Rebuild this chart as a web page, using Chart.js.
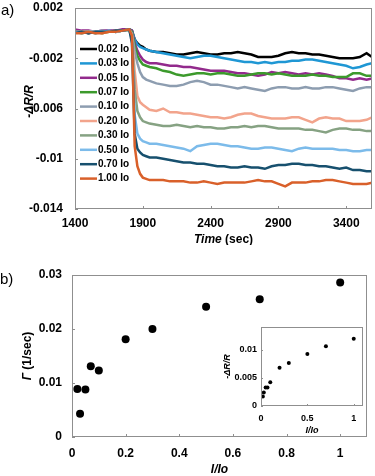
<!DOCTYPE html>
<html>
<head>
<meta charset="utf-8">
<script src="https://cdn.jsdelivr.net/npm/chart.js@4.4.0/dist/chart.umd.min.js"></script>
<style>
  html, body { margin: 0; padding: 0; background: #fff; }
  body { width: 375px; height: 476px; position: relative; overflow: hidden; }
  canvas { position: absolute; }
  #chartA { left: 0; top: 0; }
  #chartB { left: 0; top: 245px; }
  #inset { left: 205px; top: 322px; }
</style>
</head>
<body>
<canvas id="chartA" width="375" height="245"></canvas>
<canvas id="chartB" width="375" height="231"></canvas>
<canvas id="inset" width="163" height="118"></canvas>
<script>
// ---- panel a: -dR/R vs time ----
const times = [1400,1450,1500,1550,1600,1650,1700,1750,1800,1820,1840,1860,1880,1900,1925,1950,
  2000,2050,2100,2150,2200,2250,2300,2350,2400,2450,2500,2550,2600,2650,2700,2750,2800,2850,2900,2950,
  3000,3050,3100,3150,3200,3250,3300,3350,3400,3450,3500,3550,3590];

const intensities = ['0.02 Io','0.03 Io','0.05 Io','0.07 Io','0.10 Io','0.20 Io','0.30 Io','0.50 Io','0.70 Io','1.00 Io'];
const lineColors = ['#000000','#1f97d4','#922a8c','#3c9a2c','#8d9db0','#f2a48c','#86a283','#7cbbea','#17506e','#d9602a'];

const s002 = [0.0001,0.0001,0.0000,0.0001,0.0001,0.0002,0.0001,0.0002,0.0003,
  0.0002,-0.0005,-0.0008,-0.0010,-0.0011,-0.0013,-0.0014,
  -0.0015,-0.0015,-0.0016,-0.0017,-0.0017,-0.0016,-0.0015,-0.0016,-0.0017,-0.0017,
  -0.0016,-0.0016,-0.0015,-0.0016,-0.0017,-0.0019,-0.0019,-0.0019,-0.0018,-0.0016,
  -0.0015,-0.0016,-0.0016,-0.0017,-0.0017,-0.0018,-0.0019,-0.0020,-0.0020,-0.0020,
  -0.0019,-0.0016,-0.0019];
const s003 = [0.0000,0.0001,0.0001,0.0000,0.0001,0.0001,0.0002,0.0002,0.0003,
  0.0002,-0.0005,-0.0009,-0.0011,-0.0012,-0.0013,-0.0014,
  -0.0015,-0.0016,-0.0017,-0.0018,-0.0019,-0.0020,-0.0019,-0.0018,-0.0018,-0.0019,
  -0.0020,-0.0021,-0.0022,-0.0023,-0.0023,-0.0024,-0.0023,-0.0024,-0.0023,-0.0023,
  -0.0022,-0.0022,-0.0021,-0.0021,-0.0022,-0.0023,-0.0024,-0.0025,-0.0026,-0.0028,
  -0.0027,-0.0025,-0.0024];
const s005 = [0.0003,0.0002,0.0002,0.0001,0.0002,0.0002,0.0002,0.0003,0.0003,
  0.0002,-0.0008,-0.0014,-0.0018,-0.0021,-0.0023,-0.0024,
  -0.0024,-0.0025,-0.0026,-0.0026,-0.0027,-0.0027,-0.0028,-0.0029,-0.0030,-0.0030,
  -0.0030,-0.0031,-0.0032,-0.0032,-0.0033,-0.0034,-0.0033,-0.0031,-0.0032,-0.0031,
  -0.0032,-0.0033,-0.0032,-0.0033,-0.0032,-0.0033,-0.0034,-0.0036,-0.0036,-0.0037,
  -0.0036,-0.0037,-0.0036];
const s007 = [0.0001,0.0000,0.0001,0.0001,0.0000,0.0001,0.0001,0.0002,0.0003,
  0.0001,-0.0010,-0.0018,-0.0022,-0.0025,-0.0026,-0.0027,
  -0.0028,-0.0030,-0.0031,-0.0033,-0.0034,-0.0033,-0.0032,-0.0032,-0.0033,-0.0032,
  -0.0032,-0.0033,-0.0034,-0.0034,-0.0033,-0.0032,-0.0032,-0.0033,-0.0032,-0.0033,
  -0.0034,-0.0034,-0.0034,-0.0033,-0.0034,-0.0034,-0.0035,-0.0035,-0.0035,-0.0032,
  -0.0032,-0.0034,-0.0034];
const s010 = [0.0001,0.0001,0.0000,0.0001,0.0002,0.0001,0.0001,0.0002,0.0003,
  0.0000,-0.0014,-0.0024,-0.0031,-0.0035,-0.0037,-0.0038,
  -0.0040,-0.0041,-0.0042,-0.0042,-0.0041,-0.0039,-0.0038,-0.0039,-0.0041,-0.0041,
  -0.0042,-0.0043,-0.0044,-0.0043,-0.0044,-0.0045,-0.0046,-0.0044,-0.0043,-0.0043,
  -0.0044,-0.0044,-0.0043,-0.0044,-0.0044,-0.0043,-0.0043,-0.0044,-0.0045,-0.0046,
  -0.0044,-0.0043,-0.0043];
const s020 = [0.0000,0.0001,0.0001,0.0001,0.0000,0.0001,0.0002,0.0002,0.0003,
  -0.0002,-0.0030,-0.0050,-0.0055,-0.0057,-0.0059,-0.0061,
  -0.0062,-0.0060,-0.0063,-0.0063,-0.0064,-0.0064,-0.0065,-0.0066,-0.0067,-0.0067,
  -0.0068,-0.0067,-0.0065,-0.0064,-0.0064,-0.0066,-0.0067,-0.0068,-0.0068,-0.0068,
  -0.0067,-0.0067,-0.0069,-0.0071,-0.0068,-0.0067,-0.0068,-0.0068,-0.0070,-0.0070,
  -0.0070,-0.0069,-0.0067];
const s030 = [0.0001,0.0001,0.0001,0.0000,0.0001,0.0001,0.0001,0.0002,0.0002,
  -0.0003,-0.0045,-0.0062,-0.0067,-0.0070,-0.0071,-0.0072,
  -0.0073,-0.0074,-0.0074,-0.0073,-0.0074,-0.0075,-0.0074,-0.0075,-0.0075,-0.0076,
  -0.0076,-0.0075,-0.0075,-0.0074,-0.0075,-0.0074,-0.0074,-0.0075,-0.0076,-0.0076,
  -0.0076,-0.0076,-0.0077,-0.0077,-0.0078,-0.0079,-0.0077,-0.0076,-0.0076,-0.0077,
  -0.0077,-0.0078,-0.0078];
const s050 = [0.0001,0.0000,0.0001,0.0001,0.0001,0.0002,0.0001,0.0002,0.0003,
  -0.0005,-0.0065,-0.0080,-0.0084,-0.0086,-0.0087,-0.0088,
  -0.0088,-0.0089,-0.0090,-0.0091,-0.0092,-0.0094,-0.0090,-0.0089,-0.0088,-0.0088,
  -0.0089,-0.0090,-0.0090,-0.0091,-0.0092,-0.0092,-0.0091,-0.0091,-0.0092,-0.0093,
  -0.0094,-0.0092,-0.0091,-0.0092,-0.0092,-0.0092,-0.0092,-0.0093,-0.0093,-0.0094,
  -0.0094,-0.0093,-0.0093];
const s070 = [0.0000,0.0001,0.0000,0.0001,0.0001,0.0001,0.0002,0.0002,0.0003,
  -0.0008,-0.0080,-0.0092,-0.0095,-0.0097,-0.0098,-0.0099,
  -0.0099,-0.0100,-0.0101,-0.0102,-0.0103,-0.0103,-0.0104,-0.0104,-0.0105,-0.0106,
  -0.0106,-0.0107,-0.0107,-0.0106,-0.0107,-0.0107,-0.0108,-0.0106,-0.0105,-0.0105,
  -0.0104,-0.0104,-0.0105,-0.0105,-0.0106,-0.0106,-0.0107,-0.0108,-0.0107,-0.0109,
  -0.0109,-0.0110,-0.0110];
const s100 = [0.0000,0.0000,0.0001,0.0000,0.0000,0.0001,0.0001,0.0002,0.0003,
  -0.0002,-0.0090,-0.0106,-0.0112,-0.0115,-0.0116,-0.0117,
  -0.0117,-0.0117,-0.0118,-0.0118,-0.0118,-0.0119,-0.0119,-0.0118,-0.0119,-0.0120,
  -0.0119,-0.0119,-0.0119,-0.0119,-0.0118,-0.0117,-0.0118,-0.0118,-0.0120,-0.0122,
  -0.0119,-0.0119,-0.0119,-0.0118,-0.0118,-0.0117,-0.0117,-0.0118,-0.0119,-0.0120,
  -0.0120,-0.0120,-0.0119];
const seriesA = [s002, s003, s005, s007, s010, s020, s030, s050, s070, s100];

const timeTicks = [1400, 1900, 2400, 2900, 3400];
const dRTicks = [0.002, -0.002, -0.006, -0.01, -0.014];

// ---- panel b: rate vs relative intensity ----
const ratio = [0.02, 0.03, 0.05, 0.07, 0.10, 0.20, 0.30, 0.50, 0.70, 1.00];
const gamma = [0.0089, 0.0043, 0.0088, 0.0131, 0.0123, 0.0181, 0.0200, 0.0241, 0.0255, 0.0286];
const insetDR = [0.0017, 0.0024, 0.0033, 0.0033, 0.0042, 0.0068, 0.0076, 0.0092, 0.0106, 0.0119];

const ratioTicks = [0, 0.2, 0.4, 0.6, 0.8, 1];
const gammaTicks = [0, 0.01, 0.02, 0.03];
const insetXTicks = [0, 0.5, 1];
const insetYTicks = [0, 0.005, 0.01];

const FONT = '"Liberation Sans", Arial, sans-serif';
Chart.defaults.font.family = FONT;
Chart.defaults.color = '#000';

function fmt(v) { return String(+v.toFixed(4)); }

// fixed-size axis; label overflow paddings are zeroed so the plot box sits where layout.padding puts it
function axis(min, max, ticks, size, pad, fit) {
  return {
    type: 'linear', min: min, max: max,
    grid: { display: false, drawTicks: false },
    border: { display: false },
    ticks: { font: { size: size, weight: 'bold' }, color: '#000', padding: pad,
      autoSkip: false, maxRotation: 0, minRotation: 0, callback: v => fmt(v) },
    afterBuildTicks: s => { s.ticks = ticks.map(v => ({ value: v })); },
    afterFit: s => {
      fit(s);
      s.paddingTop = 0; s.paddingBottom = 0; s.paddingLeft = 0; s.paddingRight = 0;
    }
  };
}

function drawParts(ctx, parts, x, y, size, rotate) {
  ctx.save();
  ctx.translate(x, y);
  if (rotate) ctx.rotate(-Math.PI / 2);
  const fonts = parts.map(p => (p.i ? 'italic ' : '') + 'bold ' + size + 'px ' + FONT);
  const widths = parts.map((p, k) => { ctx.font = fonts[k]; return ctx.measureText(p.t).width; });
  let cx = -widths.reduce((a, b) => a + b, 0) / 2;
  ctx.fillStyle = '#000';
  ctx.textBaseline = 'middle';
  ctx.textAlign = 'left';
  parts.forEach((p, k) => { ctx.font = fonts[k]; ctx.fillText(p.t, cx, 0); cx += widths[k]; });
  ctx.restore();
}

const framePlugin = {
  id: 'frame',
  beforeDraw(chart, args, o) {
    const { ctx, chartArea: a } = chart;
    if (o.fill) {
      ctx.save();
      ctx.fillStyle = '#fff';
      ctx.fillRect(a.left, a.top, a.right - a.left, a.bottom - a.top);
      ctx.restore();
    }
  },
  afterDraw(chart, args, o) {
    const { ctx, chartArea: a, scales } = chart;
    ctx.save();
    ctx.strokeStyle = '#8f8f8f';
    ctx.lineWidth = 1;
    ctx.strokeRect(a.left + 0.5, a.top + 0.5, a.right - a.left - 1, a.bottom - a.top - 1);
    ctx.beginPath();
    scales.x.ticks.forEach(t => {
      const p = Math.round(scales.x.getPixelForValue(t.value)) + 0.5;
      ctx.moveTo(p, a.bottom); ctx.lineTo(p, a.bottom - o.tick);
    });
    scales.y.ticks.forEach(t => {
      const p = Math.round(scales.y.getPixelForValue(t.value)) + 0.5;
      ctx.moveTo(a.left, p); ctx.lineTo(a.left + o.tick, p);
    });
    ctx.stroke();

    drawParts(ctx, o.xTitle, (a.left + a.right) / 2, a.bottom + o.xOff, o.size, false);
    drawParts(ctx, o.yTitle, a.left - o.yOff, (a.top + a.bottom) / 2 + (o.yShift || 0), o.size, true);

    if (o.legend) {
      chart.data.datasets.forEach((ds, i) => {
        const y = a.top + 41 + i * 14.4;
        ctx.strokeStyle = ds.borderColor;
        ctx.lineWidth = 2.5;
        ctx.beginPath();
        ctx.moveTo(a.left + 5, y); ctx.lineTo(a.left + 22, y);
        ctx.stroke();
        ctx.fillStyle = '#000';
        ctx.font = 'bold 10px ' + FONT;
        ctx.textBaseline = 'middle';
        ctx.fillText(ds.label, a.left + 23, y);
      });
    }
    if (o.tag) {
      ctx.fillStyle = '#000';
      ctx.font = '15px ' + FONT;
      ctx.textBaseline = 'middle';
      ctx.textAlign = 'left';
      ctx.fillText(o.tag.t, o.tag.x, o.tag.y);
    }
    ctx.restore();
  }
};

// panel a
new Chart(document.getElementById('chartA'), {
  type: 'line',
  data: {
    datasets: seriesA.map((s, i) => ({
      label: intensities[i],
      data: times.map((t, k) => ({ x: t, y: s[k] })),
      borderColor: lineColors[i],
      borderWidth: 2.5,
      pointRadius: 0,
      tension: 0,
      order: seriesA.length - 1 - i
    }))
  },
  options: {
    responsive: false, animation: false, devicePixelRatio: 1,
    layout: { padding: { left: 0, top: 8, right: 3, bottom: 0 } },
    scales: {
      x: axis(1400, 3590, timeTicks, 12, 7, s => { s.height = 36; }),
      y: axis(-0.014, 0.002, dRTicks, 12, 12, s => { s.width = 75; })
    },
    plugins: {
      legend: { display: false }, tooltip: { enabled: false },
      frame: {
        tick: 3, size: 12, xOff: 31, yOff: 45, yShift: -7, legend: true,
        xTitle: [{ t: 'Time', i: true }, { t: ' (sec)' }],
        yTitle: [{ t: '-ΔR/R', i: true }],
        tag: { t: 'a)', x: 1, y: 11 }
      }
    }
  },
  plugins: [framePlugin]
});

// panel b
new Chart(document.getElementById('chartB'), {
  type: 'scatter',
  data: {
    datasets: [{
      data: ratio.map((r, k) => ({ x: r, y: gamma[k] })),
      backgroundColor: '#000', borderWidth: 0, pointRadius: 4
    }]
  },
  options: {
    responsive: false, animation: false, devicePixelRatio: 1,
    layout: { padding: { left: 0, top: 30, right: 8, bottom: 0 } },
    scales: {
      x: axis(0, 1.1, ratioTicks, 12, 9, s => { s.height = 39; }),
      y: axis(0, 0.03, gammaTicks, 12, 10, s => { s.width = 72; })
    },
    plugins: {
      legend: { display: false }, tooltip: { enabled: false },
      frame: {
        tick: 3, size: 12, xOff: 33, yOff: 44,
        xTitle: [{ t: 'I/Io', i: true }],
        yTitle: [{ t: 'Γ', i: true }, { t: ' (1/sec)' }],
        tag: { t: 'b)', x: 0, y: 35 }
      }
    }
  },
  plugins: [framePlugin]
});

// inset
new Chart(document.getElementById('inset'), {
  type: 'scatter',
  data: {
    datasets: [{
      data: ratio.map((r, k) => ({ x: r, y: insetDR[k] })),
      backgroundColor: '#000', borderWidth: 0, pointRadius: 2
    }]
  },
  options: {
    responsive: false, animation: false, devicePixelRatio: 1,
    layout: { padding: { left: 0, top: 5, right: 5, bottom: 0 } },
    scales: {
      x: axis(0, 1.1, insetXTicks, 9, 7, s => { s.height = 34; }),
      y: axis(0, 0.014, insetYTicks, 9, 4, s => { s.width = 56; })
    },
    plugins: {
      legend: { display: false }, tooltip: { enabled: false },
      frame: {
        tick: 2, size: 9, xOff: 25, yOff: 33, fill: true,
        xTitle: [{ t: 'I/Io', i: true }],
        yTitle: [{ t: '-ΔR/R', i: true }]
      }
    }
  },
  plugins: [framePlugin]
});
</script>
</body>
</html>
